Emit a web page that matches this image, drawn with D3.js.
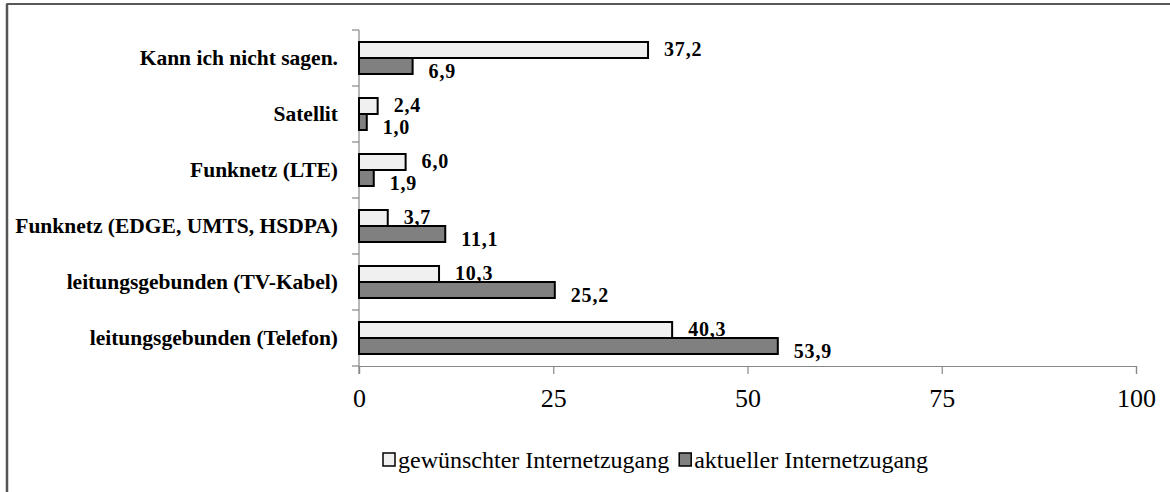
<!DOCTYPE html>
<html><head><meta charset="utf-8">
<script src="https://cdn.jsdelivr.net/npm/d3@7"></script>
<style>
html,body{margin:0;padding:0;background:#fff;}
svg{display:block;}
</style></head>
<body>
<svg id="chart" width="1170" height="492"></svg>
<script>
const categories = ["Kann ich nicht sagen.", "Satellit", "Funknetz (LTE)", "Funknetz (EDGE, UMTS, HSDPA)", "leitungsgebunden (TV-Kabel)", "leitungsgebunden (Telefon)"];
const seriesNames = ["gewünschter Internetzugang", "aktueller Internetzugang"];
const gewuenscht = [37.2, 2.4, 6.0, 3.7, 10.3, 40.3];
const aktuell = [6.9, 1.0, 1.9, 11.1, 25.2, 53.9];
const xTicks = [0, 25, 50, 75, 100];

const fills = ["#f0f0f0", "#808080"];
const svg = d3.select("#chart");

// frame
svg.append("rect").attr("x", 7).attr("y", 4).attr("width", 1300).attr("height", 700)
  .attr("fill", "#fff").attr("stroke", "#222").attr("stroke-width", 1.5);
svg.append("line").attr("x1", 7).attr("x2", 7).attr("y1", 4).attr("y2", 492)
  .attr("stroke", "#555").attr("stroke-width", 2.5);

const x = d3.scaleLinear().domain([0, 100]).range([359, 1136]);
const y = d3.scaleBand().domain(categories).range([30, 366]).padding(0);
const bw = y.bandwidth();
const ys = d3.scaleBand().domain(seriesNames).range([bw * 0.2143, bw * 0.7857]).padding(0);

const data = categories.map((c, i) => ({cat: c, vals: [gewuenscht[i], aktuell[i]]}));

// x axis
const xAxis = svg.append("g").attr("transform", "translate(0,366)")
  .call(d3.axisBottom(x).tickValues(xTicks).tickSize(8).tickPadding(15).tickFormat(d3.format("d")));
xAxis.select(".domain").attr("stroke", "#888").attr("stroke-width", 1.2);
xAxis.selectAll(".tick line").attr("stroke", "#888").attr("stroke-width", 1.2);
xAxis.selectAll(".tick text").attr("font-family", "'Liberation Serif', serif").attr("font-size", 26)
  .attr("fill", "#000").attr("dy", "0.71em");

// y axis
const yAxis = svg.append("g").attr("transform", "translate(359,0)")
  .call(d3.axisLeft(y).tickSize(0).tickPadding(21));
yAxis.select(".domain").remove();
yAxis.selectAll(".tick text").attr("font-family", "'Liberation Serif', serif").attr("font-weight", "bold")
  .attr("font-size", 21.5).attr("fill", "#000").attr("dy", "0.32em");
const bounds = categories.map(c => y(c)).concat([y.range()[1]]);
svg.append("g").selectAll("line").data(bounds).join("line")
  .attr("x1", 352).attr("x2", 359).attr("y1", d => d).attr("y2", d => d)
  .attr("stroke", "#888").attr("stroke-width", 1.2);
svg.append("line").attr("x1", 359).attr("x2", 359).attr("y1", 30).attr("y2", 374)
  .attr("stroke", "#888").attr("stroke-width", 1.2);

// bars
const groups = svg.append("g").selectAll("g").data(data).join("g")
  .attr("transform", d => `translate(0,${y(d.cat)})`);
groups.selectAll("rect").data(d => d.vals.map((v, j) => ({v, s: seriesNames[j], j})))
  .join("rect")
  .attr("x", x(0)).attr("y", d => ys(d.s))
  .attr("width", d => x(d.v) - x(0)).attr("height", ys.bandwidth())
  .attr("fill", d => fills[d.j]).attr("stroke", "#000").attr("stroke-width", 2);

const fmt = v => d3.format(".1f")(v).replace(".", ",");
groups.selectAll("text").data(d => d.vals.map((v, j) => ({v, s: seriesNames[j], j})))
  .join("text")
  .attr("x", d => x(d.v) + 16)
  .attr("y", d => ys(d.s) + ys.bandwidth() / 2 + (d.j === 1 ? 5 : -1))
  .attr("dy", "0.34em")
  .attr("font-family", "'Liberation Serif', serif").attr("font-weight", "bold").attr("font-size", 20)
  .attr("letter-spacing", 0.8)
  .attr("fill", "#000")
  .text(d => fmt(d.v));

// legend
const legend = svg.append("g").attr("font-family", "'Liberation Serif', serif").attr("font-size", 24);
let lx = 383;
seriesNames.forEach((s, i) => {
  legend.append("rect").attr("x", lx).attr("y", 453).attr("width", 12).attr("height", 13)
    .attr("fill", fills[i]).attr("stroke", "#000").attr("stroke-width", 1.5);
  const t = legend.append("text").attr("x", lx + 15).attr("y", 468).attr("fill", "#000").text(s);
  lx = lx + 15 + t.node().getComputedTextLength() + 10;
});
</script>
</body></html>
